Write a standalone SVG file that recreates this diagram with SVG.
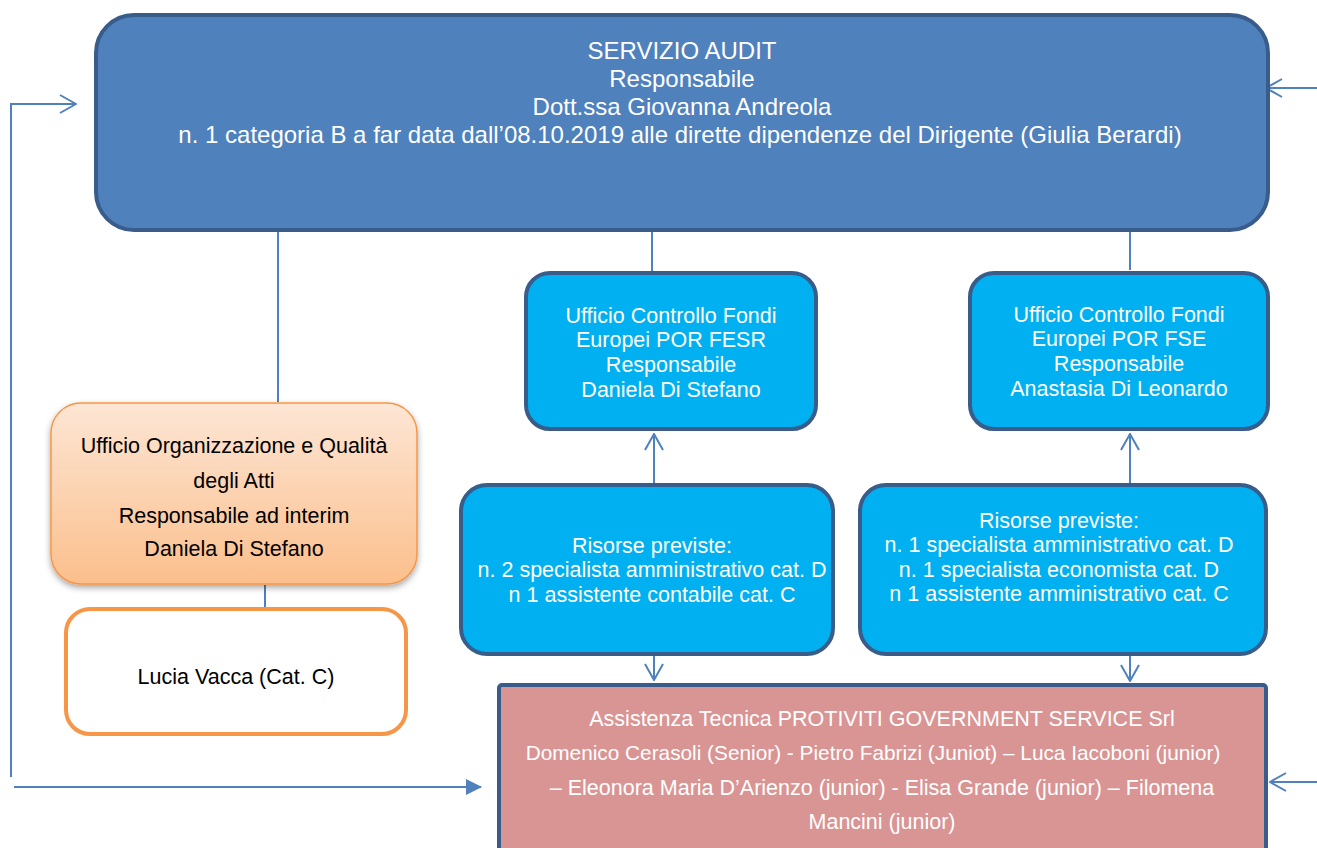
<svg xmlns="http://www.w3.org/2000/svg" width="1317" height="848" viewBox="0 0 1317 848">
<style>
text{font-family:"Liberation Sans",Arial,sans-serif;text-anchor:middle}
.w{fill:#fff}
.k{fill:#000}
.t{font-size:21.5px}
.ln{stroke:#4F81BD;stroke-width:2;fill:none}
.blue{fill:#00B0F0;stroke:#385D8A;stroke-width:4}
</style>
<defs>
<linearGradient id="og" x1="0" y1="0" x2="0" y2="1">
<stop offset="0" stop-color="#FDE6D5"/>
<stop offset="1" stop-color="#FBBF8C"/>
</linearGradient>
<filter id="sh" x="-10%" y="-10%" width="130%" height="130%">
<feDropShadow dx="0" dy="3" stdDeviation="3" flood-color="#000" flood-opacity="0.35"/>
</filter>
<marker id="openL" viewBox="0 0 18 20" refX="17" refY="10" markerWidth="18" markerHeight="20" markerUnits="userSpaceOnUse" orient="auto">
<path d="M1,1 L17,10 L1,19" fill="none" stroke="#4F81BD" stroke-width="2"/>
</marker>
<marker id="fill" viewBox="0 0 16 16" refX="15" refY="8" markerWidth="16" markerHeight="16" markerUnits="userSpaceOnUse" orient="auto">
<path d="M0,0 L16,8 L0,16 Z" fill="#4F81BD"/>
</marker>
</defs>

<g id="connectors">
<line class="ln" x1="278" y1="213" x2="278" y2="402"/>
<line class="ln" x1="652" y1="213" x2="652" y2="271"/>
<line class="ln" x1="1130" y1="213" x2="1130" y2="270"/>
<line class="ln" x1="265" y1="585" x2="265" y2="607"/>
<polyline class="ln" points="11,777 11,104 76,104" marker-end="url(#openL)"/>
<line class="ln" x1="1317" y1="88" x2="1266" y2="88" marker-end="url(#openL)"/>
<line class="ln" x1="14" y1="787" x2="481" y2="787" marker-end="url(#fill)"/>
<line class="ln" x1="1317" y1="782" x2="1270" y2="782" marker-end="url(#openL)"/>
<line class="ln" x1="654" y1="483" x2="654" y2="434" marker-end="url(#openL)"/>
<line class="ln" x1="654" y1="656" x2="654" y2="680" marker-end="url(#openL)"/>
<line class="ln" x1="1130" y1="483" x2="1130" y2="434" marker-end="url(#openL)"/>
<line class="ln" x1="1130" y1="656" x2="1130" y2="681" marker-end="url(#openL)"/>
</g>

<g id="servizio-audit">
<rect x="96" y="15" width="1172" height="215" rx="38" fill="#4F81BD" stroke="#385D8A" stroke-width="4"/>
<text class="w" x="682" y="59" font-size="24">SERVIZIO AUDIT</text>
<text class="w" x="682" y="87" font-size="24">Responsabile</text>
<text class="w" x="682" y="115" font-size="24">Dott.ssa Giovanna Andreola</text>
<text class="w" x="680" y="143" font-size="24">n. 1 categoria B a far data dall’08.10.2019 alle dirette dipendenze del Dirigente (Giulia Berardi)</text>
</g>

<g id="fesr">
<rect class="blue" x="526" y="273" width="290" height="156" rx="24"/>
<text class="w t" x="671" y="323">Ufficio Controllo Fondi</text>
<text class="w t" x="671" y="347">Europei POR FESR</text>
<text class="w t" x="671" y="372">Responsabile</text>
<text class="w t" x="671" y="397">Daniela Di Stefano</text>
</g>

<g id="fse">
<rect class="blue" x="970" y="273" width="298" height="156" rx="24"/>
<text class="w t" x="1119" y="322">Ufficio Controllo Fondi</text>
<text class="w t" x="1119" y="346">Europei POR FSE</text>
<text class="w t" x="1119" y="371">Responsabile</text>
<text class="w t" x="1119" y="396">Anastasia Di Leonardo</text>
</g>

<g id="risorse-fesr">
<rect class="blue" x="461" y="485" width="372" height="169" rx="26"/>
<text class="w t" x="652" y="553">Risorse previste:</text>
<text class="w t" x="652" y="577">n. 2 specialista amministrativo cat. D</text>
<text class="w t" x="652" y="602">n 1 assistente contabile cat. C</text>
</g>

<g id="risorse-fse">
<rect class="blue" x="860" y="485" width="406" height="169" rx="26"/>
<text class="w t" x="1059" y="528">Risorse previste:</text>
<text class="w t" x="1059" y="552">n. 1 specialista amministrativo cat. D</text>
<text class="w t" x="1059" y="577">n. 1 specialista economista cat. D</text>
<text class="w t" x="1059" y="601">n 1 assistente amministrativo cat. C</text>
</g>

<g id="ufficio-organizzazione">
<rect x="51" y="403" width="366" height="181" rx="30" fill="url(#og)" stroke="#F79646" stroke-width="1.5" filter="url(#sh)"/>
<text class="k t" x="234" y="453">Ufficio Organizzazione e Qualità</text>
<text class="k t" x="234" y="488">degli Atti</text>
<text class="k t" x="234" y="523">Responsabile ad interim</text>
<text class="k t" x="234" y="556">Daniela Di Stefano</text>
</g>

<g id="lucia-vacca">
<rect x="66" y="609" width="340" height="125" rx="24" fill="#fff" stroke="#F79646" stroke-width="4"/>
<text class="k t" x="236" y="684">Lucia Vacca (Cat. C)</text>
</g>

<g id="assistenza-tecnica">
<rect x="499" y="685" width="767" height="175" rx="3" fill="#D99594" stroke="#385D8A" stroke-width="4"/>
<text class="w t" x="882" y="726">Assistenza Tecnica PROTIVITI GOVERNMENT SERVICE Srl</text>
<text class="w" x="873" y="760" font-size="20.8">Domenico Cerasoli (Senior) - Pietro Fabrizi (Juniot) – Luca Iacoboni (junior)</text>
<text class="w t" x="882" y="795">– Eleonora Maria D’Arienzo (junior) - Elisa Grande (junior) – Filomena</text>
<text class="w t" x="882" y="829">Mancini (junior)</text>
</g>
</svg>
